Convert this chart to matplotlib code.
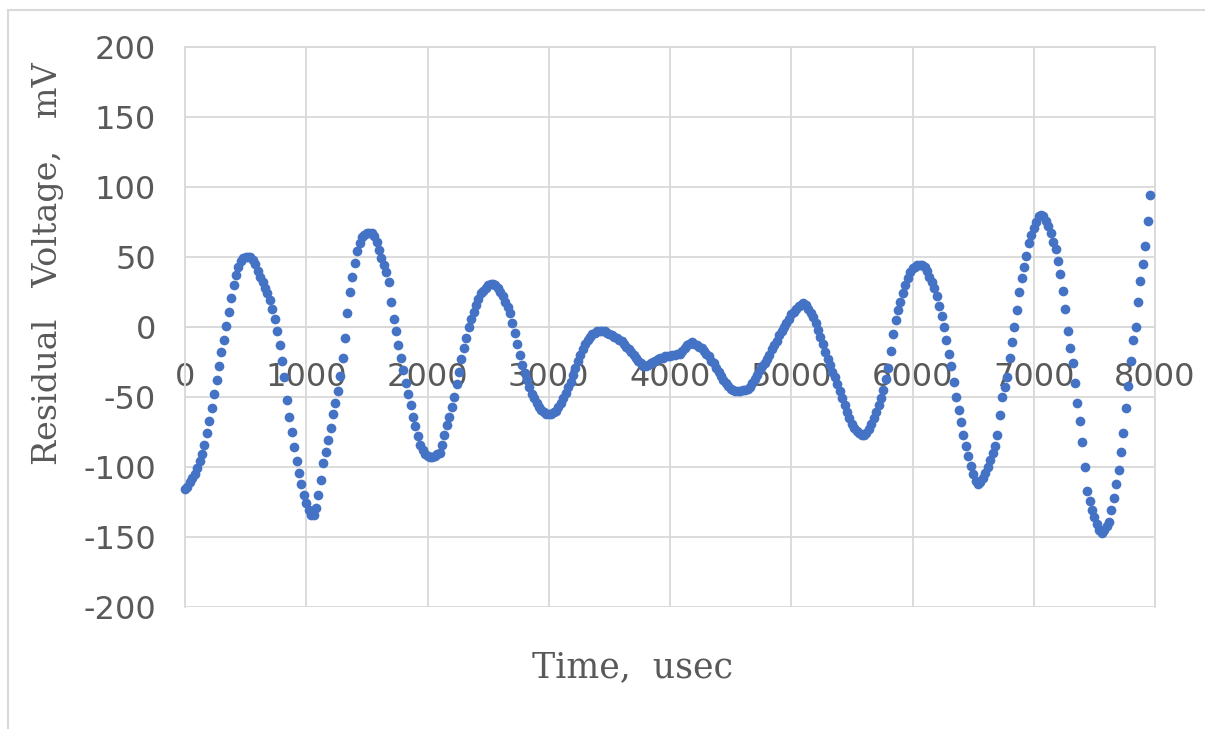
import numpy as np
import matplotlib
matplotlib.use("Agg")
import matplotlib.pyplot as plt
from matplotlib.patches import Rectangle

# ---- data (20 usec spacing) ----
sample_step_us = 20
seg_0000 = [-116, -114, -111, -108, -105, -101, -96, -91, -84, -76,
            -67, -58, -48, -38, -28, -18, -9, 1, 11, 21,
            30, 37, 43, 47, 49, 50, 50, 50, 48, 45,
            40, 36, 32, 28, 24, 19, 13, 6, -3, -13,
            -24, -36, -52, -64, -75, -86, -96, -104, -112, -120]
seg_1000 = [-126, -131, -134, -134, -129, -120, -109, -97, -89, -81,
            -72, -62, -54, -46, -35, -22, -8, 10, 25, 36,
            46, 54, 60, 64, 66, 67, 67, 67, 65, 61,
            55, 49, 44, 39, 32, 18, 6, -3, -13, -22,
            -31, -40, -48, -56, -64, -71, -78, -84, -88, -91]
seg_2000 = [-92, -93, -93, -92, -91, -90, -84, -77, -70, -64,
            -57, -50, -41, -32, -23, -15, -8, 0, 6, 11,
            16, 20, 24, 26, 28, 30, 31, 31, 30, 28,
            25, 22, 18, 14, 10, 3, -4, -12, -20, -27,
            -33, -38, -43, -48, -51, -54, -57, -59, -61, -62]
seg_3000 = [-62, -62, -61, -60, -57, -54, -51, -47, -43, -39,
            -34, -29, -24, -20, -16, -12, -9, -7, -5, -4,
            -3, -3, -3, -3, -4, -5, -6, -7, -8, -9,
            -10, -12, -14, -16, -18, -20, -22, -24, -26, -28,
            -28, -27, -26, -25, -24, -23, -22, -22, -21, -21]
seg_4000 = [-21, -20, -20, -19, -19, -17, -15, -13, -12, -11,
            -12, -13, -14, -15, -17, -19, -21, -24, -26, -29,
            -32, -35, -38, -40, -42, -44, -45, -46, -46, -46,
            -45, -45, -44, -43, -40, -37, -34, -31, -28, -26,
            -23, -20, -16, -13, -10, -6, -3, 0, 3, 6]
seg_5000 = [9, 11, 13, 15, 16, 17, 16, 13, 10, 7,
            3, -2, -7, -12, -18, -23, -27, -32, -36, -41,
            -46, -51, -56, -61, -65, -69, -72, -74, -76, -77,
            -77, -76, -73, -69, -65, -61, -56, -51, -45, -37,
            -29, -17, -5, 5, 12, 18, 24, 30, 35, 39]
seg_6000 = [42, 43, 44, 44, 44, 43, 40, 36, 32, 28,
            22, 15, 8, 0, -9, -19, -28, -39, -50, -59,
            -68, -77, -85, -92, -99, -105, -110, -112, -111, -108,
            -104, -100, -95, -90, -85, -77, -63, -50, -43, -36,
            -22, -11, 0, 12, 25, 35, 43, 51, 60, 66]
seg_7000 = [71, 75, 79, 80, 79, 76, 72, 67, 61, 56,
            47, 38, 26, 13, -3, -15, -26, -40, -54, -67,
            -82, -100, -117, -124, -131, -136, -141, -145, -147, -145,
            -142, -139, -131, -122, -112, -102, -89, -76, -58, -42,
            -24, -9, 0, 18, 33, 45, 58, 76, 94]

residual_mv = np.array(seg_0000 + seg_1000 + seg_2000 + seg_3000 +
                       seg_4000 + seg_5000 + seg_6000 + seg_7000, dtype=float)
time_us = np.arange(len(residual_mv)) * sample_step_us

x_ticks = [0, 1000, 2000, 3000, 4000, 5000, 6000, 7000, 8000]
y_ticks = [-200, -150, -100, -50, 0, 50, 100, 150, 200]
x_title = "Time,  usec"
y_title = "Residual   Voltage,   mV"

# ---- style ----
W, H = 1205, 729
grid_c = "#d9d9d9"
text_c = "#595959"
dot_c = "#4472c4"

fig = plt.figure(figsize=(W / 100, H / 100), dpi=100)
fig.patch.set_facecolor("white")

# chart-area border (left and top visible)
fig.patches.append(Rectangle((8 / W, -0.05), 1.2, 1 - 10 / H + 0.05,
                             transform=fig.transFigure, fill=False,
                             edgecolor=grid_c, linewidth=1.5))

ax = fig.add_axes([185 / W, 1 - 607 / H, (1155 - 185) / W, (607 - 47) / H])
ax.set_xlim(0, 8000)
ax.set_ylim(-200, 200)
ax.set_xticks(x_ticks)
ax.set_yticks(y_ticks)
ax.set_xticklabels([str(v) for v in x_ticks])
ax.set_yticklabels([str(v) for v in y_ticks])
ax.grid(True, color=grid_c, linewidth=1.3)
ax.set_axisbelow(True)

for s in ("top", "right", "left"):
    ax.spines[s].set_color(grid_c)
    ax.spines[s].set_linewidth(1.3)
ax.spines["bottom"].set_position(("data", 0))
ax.spines["bottom"].set_color(grid_c)
ax.spines["bottom"].set_linewidth(1.3)

ax.tick_params(axis="both", length=0, labelsize=23, labelcolor=text_c,
               labelfontfamily="DejaVu Sans")
ax.tick_params(axis="x", pad=25)
ax.tick_params(axis="y", pad=21)

ax.plot(time_us, residual_mv, linestyle="none", marker="o", markersize=7,
        color=dot_c, markeredgewidth=0, zorder=3, clip_on=False)

fig.text(633 / W, 1 - 667 / H, x_title, ha="center", va="center",
         fontsize=25, color=text_c, family="DejaVu Serif")
fig.text(48 / W, 1 - 264 / H, y_title, ha="center", va="center",
         rotation=90, fontsize=24, color=text_c, family="DejaVu Serif")

fig.savefig("out.png", dpi=100, facecolor="white")
